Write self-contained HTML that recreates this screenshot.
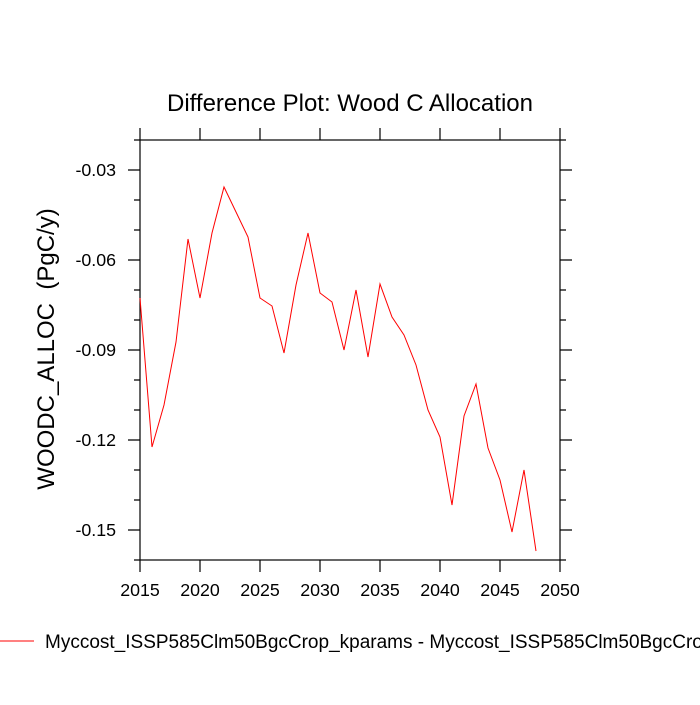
<!DOCTYPE html>
<html><head><style>body{margin:0;background:#fff}</style></head><body>
<svg width="700" height="700" xmlns="http://www.w3.org/2000/svg" font-family="Liberation Sans, sans-serif">
<rect width="700" height="700" fill="#fff"/>
<text x="350" y="111" text-anchor="middle" font-size="24">Difference Plot: Wood C Allocation</text>
<g stroke="#000" stroke-width="1.2" fill="none">
<rect x="140" y="140" width="420" height="420"/>
<path d="M140 140v-12M200 140v-12M260 140v-12M320 140v-12M380 140v-12M440 140v-12M500 140v-12M560 140v-12
M140 560v12M200 560v12M260 560v12M320 560v12M380 560v12M440 560v12M500 560v12M560 560v12
M140 170h-12M140 260h-12M140 350h-12M140 440h-12M140 530h-12
M560 170h12M560 260h12M560 350h12M560 440h12M560 530h12
M140 140h-6M140 200h-6M140 230h-6M140 290h-6M140 320h-6M140 380h-6M140 410h-6M140 470h-6M140 500h-6M140 560h-6
M560 140h6M560 200h6M560 230h6M560 290h6M560 320h6M560 380h6M560 410h6M560 470h6M560 500h6M560 560h6"/>
</g>
<g font-size="17.8" text-anchor="end">
<text x="116" y="176">-0.03</text><text x="116" y="266">-0.06</text><text x="116" y="356">-0.09</text><text x="116" y="446">-0.12</text><text x="116" y="536">-0.15</text>
</g>
<g font-size="17.8" text-anchor="middle">
<text x="140" y="596">2015</text><text x="200" y="596">2020</text><text x="260" y="596">2025</text><text x="320" y="596">2030</text><text x="380" y="596">2035</text><text x="440" y="596">2040</text><text x="500" y="596">2045</text><text x="560" y="596">2050</text>
</g>
<text transform="translate(54,349) rotate(-90)" text-anchor="middle" font-size="24" xml:space="preserve">WOODC_ALLOC  (PgC/y)</text>
<polyline fill="none" stroke="#f00" stroke-width="1" points="140,298 152,447 164,405 176,342 188,239 200,298 212,233 224,187 236,212 248,237 260,298 272,306 284,353 296,285 308,233 320,293 332,302 344,350 356,290 368,357 380,284 392,317 404,335 416,365 428,410 440,437 452,505 464,416 476,384 488,448 500,480 512,532 524,470 536,551"/>
<line x1="0" y1="641" x2="34" y2="641" stroke="#f00" stroke-width="1"/>
<text x="45" y="648" font-size="19">Myccost_ISSP585Clm50BgcCrop_kparams - Myccost_ISSP585Clm50BgcCrop</text>
</svg>
</body></html>
